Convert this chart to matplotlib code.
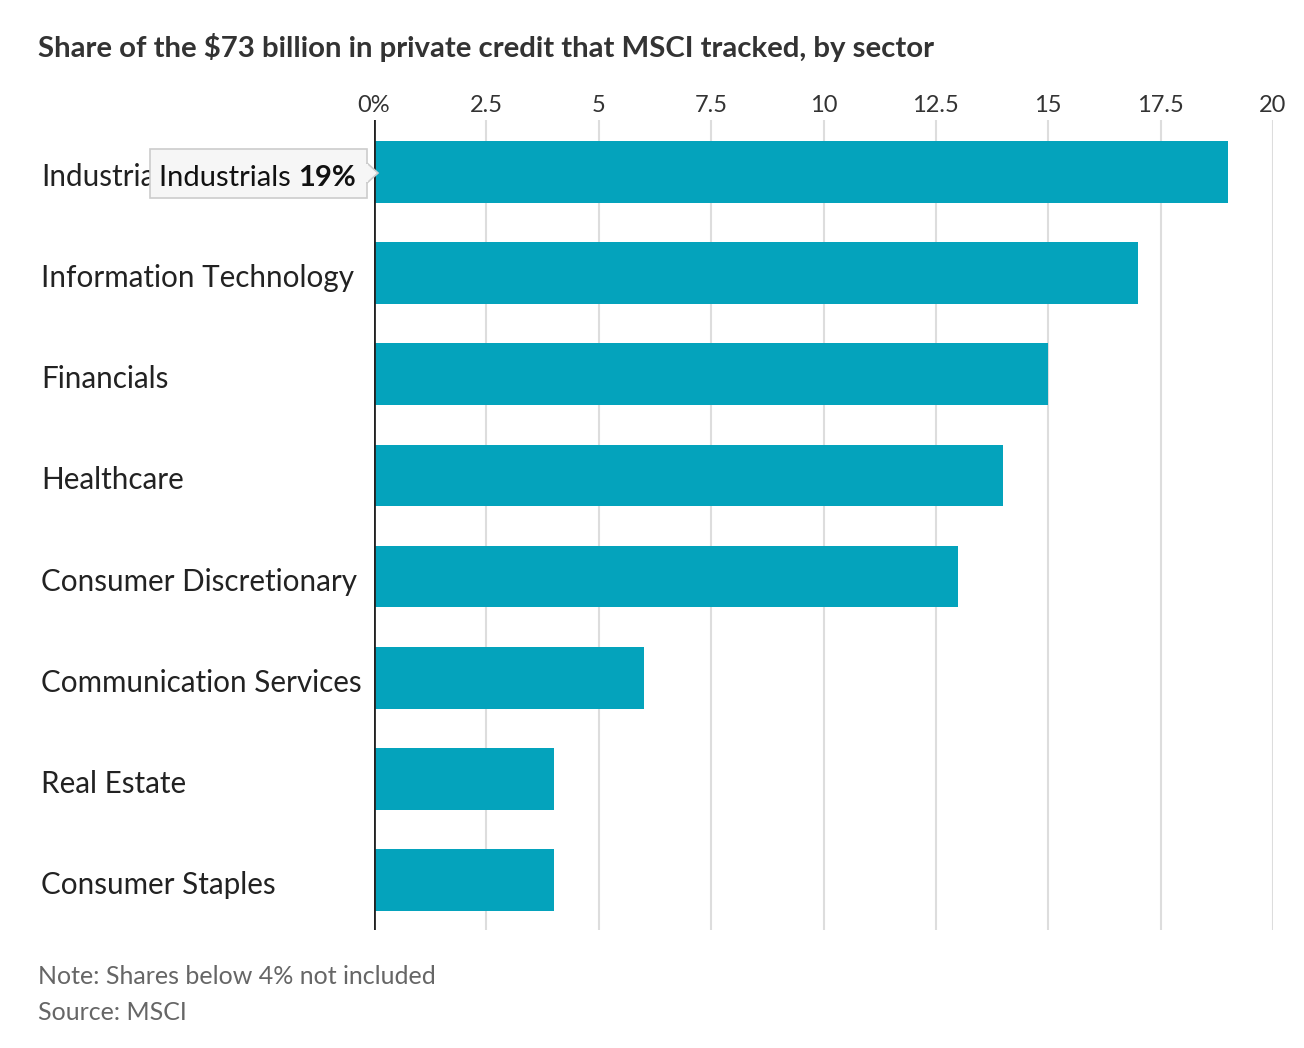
import matplotlib
matplotlib.use("Agg")
import matplotlib.pyplot as plt
from matplotlib.patches import FancyBboxPatch, Polygon

categories = ["Industrials", "Information Technology", "Financials", "Healthcare",
              "Consumer Discretionary", "Communication Services", "Real Estate",
              "Consumer Staples"]
values = [19, 17, 15, 14, 13, 6, 4, 4]
tick_values = [0, 2.5, 5, 7.5, 10, 12.5, 15, 17.5, 20]
tick_labels = ["0%", "2.5", "5", "7.5", "10", "12.5", "15", "17.5", "20"]

W, H = 1304, 1048
fig = plt.figure(figsize=(W/100, H/100), dpi=100)
ax = fig.add_axes([374/W, 1-930/H, (1273-374)/W, (930-120)/H])

bar_color = "#04a3bc"
y = list(range(len(categories)))
ax.barh(y, values, height=0.61, color=bar_color, zorder=2)
ax.set_xlim(0, 20)
ax.set_ylim(7.494, -0.514)

ax.set_xticks(tick_values)
ax.set_xticklabels(tick_labels, fontsize=17, color="#333333", family="Lato")
ax.xaxis.tick_top()
ax.tick_params(axis="x", length=0, pad=3)
ax.set_yticks([])
for s in ax.spines.values():
    s.set_visible(False)
for tv in tick_values[1:]:
    ax.axvline(tv, color="#dddddd", lw=1.5, zorder=1)
ax.axvline(0, color="#222222", lw=2.0, zorder=3)

for i, c in enumerate(categories):
    fig.text(41/W, 1-(177+101.14*i)/H, c, fontsize=21.3, color="#222222",
             family="Lato", va="center", ha="left")

# Tooltip
tip_l, tip_r, tip_t, tip_b = 150, 367, 149, 198
box = FancyBboxPatch((tip_l/W, 1-tip_b/H), (tip_r-tip_l)/W, (tip_b-tip_t)/H,
                     boxstyle="square,pad=0", transform=fig.transFigure,
                     facecolor="#f6f6f6", edgecolor="#cccccc", lw=1.2, zorder=10)
fig.add_artist(box)
arrow = Polygon([(tip_r/W, 1-163/H), (378/W, 1-173/H), (tip_r/W, 1-183/H)],
                closed=True, transform=fig.transFigure, facecolor="#f6f6f6",
                edgecolor="#cccccc", lw=1.2, zorder=10)
fig.add_artist(arrow)
fig.add_artist(Polygon([((tip_r-1)/W, 1-164/H), ((tip_r-1)/W, 1-182/H), ((tip_r+0.5)/W, 1-182/H), ((tip_r+0.5)/W, 1-164/H)],
                       closed=True, transform=fig.transFigure, facecolor="#f6f6f6", edgecolor="none", zorder=11))
t1 = fig.text(159/W, 1-178/H, "Industrials ", fontsize=21, color="#111111",
              family="Lato", va="center", ha="left", zorder=12)
fig.canvas.draw()
bb = t1.get_window_extent()
fig.text(bb.x1/W, 1-178/H, "19%", fontsize=21, color="#111111", weight="bold",
         family="Lato", va="center", ha="left", zorder=12)

fig.text(38/W, 1-48/H, "Share of the $73 billion in private credit that MSCI tracked, by sector",
         fontsize=21.2, weight="bold", color="#333333", family="Lato", va="center", ha="left")
fig.text(38/W, 1-977/H, "Note: Shares below 4% not included", fontsize=18,
         color="#666666", family="Lato", va="center", ha="left")
fig.text(38/W, 1-1013/H, "Source: MSCI", fontsize=18,
         color="#666666", family="Lato", va="center", ha="left")

fig.savefig("out.png", dpi=100, facecolor="white")
